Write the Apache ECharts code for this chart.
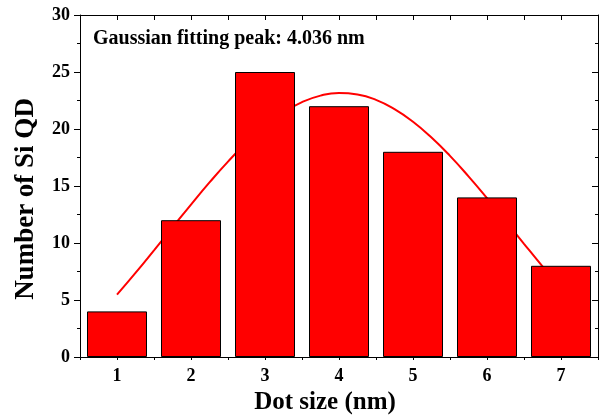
<!DOCTYPE html>
<html>
<head>
<meta charset="utf-8">
<script src="https://cdn.jsdelivr.net/npm/echarts@6/dist/echarts.min.js"></script>
<style>
html, body { margin: 0; padding: 0; background: #fff; }
#chart { width: 602px; height: 420px; }
</style>
</head>
<body>
<div id="chart"></div>
<script>
// 柱状图数据
var sizes = ['1', '2', '3', '4', '5', '6', '7'];
var counts = [4, 12, 25, 22, 18, 14, 8];
// 高斯拟合曲线
var fitX = [1, 1.25, 1.5, 1.75, 2, 2.25, 2.5, 2.75, 3, 3.25, 3.5, 3.75, 4, 4.25, 4.5, 4.75, 5, 5.25, 5.5, 5.75, 6, 6.25, 6.5, 6.75, 7];
var fitY = [5.47, 7.38, 9.36, 11.37, 13.37, 15.31, 17.14, 18.81, 20.26, 21.46, 22.36, 22.93, 23.16, 23.03, 22.56, 21.75, 20.64, 19.25, 17.64, 15.85, 13.94, 11.95, 9.93, 7.94, 6.01];
var yTicks = [0, 5, 10, 15, 20, 25, 30];

var fitData = [];
for (var i = 0; i < fitX.length; i++) {
	fitData.push([fitX[i], fitY[i]]);
}

var font = 'Liberation Serif';
var black = '#000';

var myChart = echarts.init(document.getElementById('chart'));
myChart.setOption({
	animation: false,
	grid: { left: 80, right: 4, top: 15, bottom: 63 },
	xAxis: [{
		type: 'category',
		data: sizes,
		position: 'bottom',
		axisLine: { lineStyle: { color: black, width: 1 } },
		axisTick: { alignWithLabel: true, length: 5, lineStyle: { color: black } },
		axisLabel: { margin: 10, color: black, fontFamily: font, fontWeight: 'bold', fontSize: 18 },
		splitLine: { show: false }
	}, {
		// 半格小刻度
		type: 'value',
		min: 0.5, max: 7.5, interval: 0.5,
		position: 'bottom',
		axisLine: { show: false },
		axisTick: { show: true, length: 3, lineStyle: { color: black } },
		axisLabel: { show: false },
		splitLine: { show: false }
	}, {
		type: 'value',
		min: 0.5, max: 7.5, interval: 0.5,
		position: 'top',
		axisLine: { show: true, lineStyle: { color: black } },
		axisTick: { show: true, inside: true, length: 5, lineStyle: { color: black } },
		axisLabel: { show: false },
		splitLine: { show: false }
	}],
	yAxis: [{
		type: 'value',
		min: yTicks[0], max: yTicks[yTicks.length - 1], interval: 5,
		position: 'left',
		axisLine: { show: true, lineStyle: { color: black } },
		axisTick: { show: true, length: 6, lineStyle: { color: black } },
		minorTick: { show: true, splitNumber: 2, length: 3, lineStyle: { color: black } },
		axisLabel: { margin: 10, color: black, fontFamily: font, fontWeight: 'bold', fontSize: 18 },
		splitLine: { show: false }
	}, {
		type: 'value',
		min: yTicks[0], max: yTicks[yTicks.length - 1], interval: 5,
		position: 'right',
		axisLine: { show: true, lineStyle: { color: black } },
		axisTick: { show: true, inside: true, length: 6, lineStyle: { color: black } },
		minorTick: { show: true, splitNumber: 2, length: 3, lineStyle: { color: black } },
		axisLabel: { show: false },
		splitLine: { show: false }
	}],
	series: [{
		name: 'Gaussian fit',
		type: 'line',
		xAxisIndex: 1,
		yAxisIndex: 0,
		data: fitData,
		smooth: true,
		showSymbol: false,
		z: 1,
		lineStyle: { color: '#ff0000', width: 2 }
	}, {
		name: 'Number of Si QD',
		type: 'bar',
		xAxisIndex: 0,
		yAxisIndex: 0,
		data: counts,
		barWidth: 60,
		z: 3,
		itemStyle: { color: '#ff0000', borderColor: black, borderWidth: 1 }
	}],
	graphic: [{
		type: 'text',
		left: 93, top: 29,
		style: { text: 'Gaussian fitting peak: 4.036 nm', font: 'bold 20px "Liberation Serif"', fill: black }
	}, {
		type: 'text',
		x: 325, y: 403,
		style: { text: 'Dot size (nm)', font: 'bold 25px "Liberation Serif"', fill: black, align: 'center', verticalAlign: 'middle' }
	}, {
		type: 'text',
		x: 26, y: 199,
		rotation: Math.PI / 2,
		style: { text: 'Number of Si QD', font: 'bold 27px "Liberation Serif"', fill: black, align: 'center', verticalAlign: 'middle' }
	}]
});
</script>
</body>
</html>
